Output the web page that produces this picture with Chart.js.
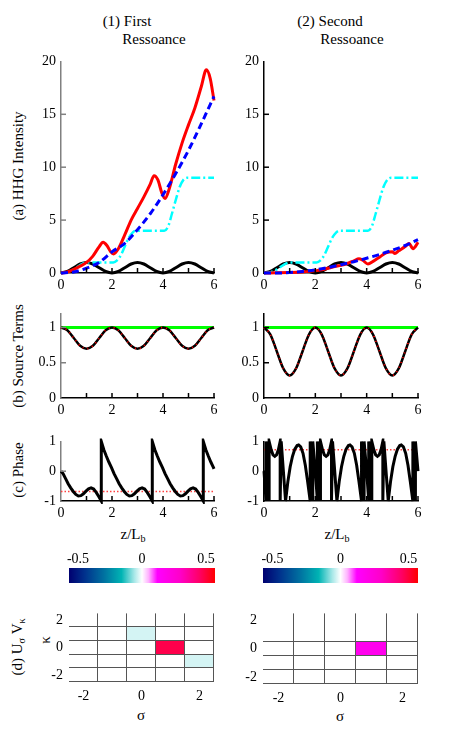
<!DOCTYPE html>
<html>
<head>
<meta charset="utf-8">
<script src="https://cdn.jsdelivr.net/npm/chart.js@4.4.1/dist/chart.umd.min.js"></script>
<style>
  body { margin: 0; background: #fff; width: 463px; height: 735px; overflow: hidden; position: relative;
         font-family: "Liberation Serif", "DejaVu Serif", serif; }
  canvas { position: absolute; }
  .t { position: absolute; font-size: 15px; white-space: nowrap; color: #000; transform: translate(-50%, -50%); }
  .r { transform: translate(-50%, -50%) rotate(-90deg); }
  sub { font-size: 10px; vertical-align: -3px; }
</style>
</head>
<body>
<div class="t" style="left:127px;top:21px">(1) First</div>
<div class="t" style="left:154px;top:39px">Ressoance</div>
<div class="t" style="left:330px;top:21px">(2) Second</div>
<div class="t" style="left:352px;top:39px">Ressoance</div>
<div class="t r" style="left:18px;top:166px">(a) HHG Intensity</div>
<div class="t r" style="left:18px;top:356px">(b) Source Terms</div>
<div class="t r" style="left:18px;top:470px">(c) Phase</div>
<div class="t" style="left:133px;top:535px">z/L<sub>b</sub></div>
<div class="t" style="left:337px;top:535px">z/L<sub>b</sub></div>
<div class="t r" style="left:18px;top:647px">(d) U<sub>σ</sub> V<sub>κ</sub></div>
<div class="t r" style="left:45px;top:640px">κ</div>
<div class="t" style="left:141px;top:715px">σ</div>
<div class="t" style="left:340px;top:716px">σ</div>
<script>
// ---- data ----
const zQ = [0, 0.25, 0.5, 0.75, 1, 1.25, 1.5, 1.75, 2, 2.25, 2.5, 2.75, 3, 3.25, 3.5, 3.75, 4, 4.25, 4.5, 4.75, 5, 5.25, 5.5, 5.75, 6];
const zH = [0, 0.5, 1, 1.5, 2, 2.5, 3, 3.5, 4, 4.5, 5, 5.5, 6];

// (a) HHG intensity
const bumps = [0, 0.15, 0.5, 0.85, 1, 0.85, 0.5, 0.15, 0, 0.15, 0.5, 0.85, 1, 0.85, 0.5, 0.15, 0, 0.15, 0.5, 0.85, 1, 0.85, 0.5, 0.15, 0];
const cyanZ = [0, 0.25, 0.5, 0.75, 1, 2.05, 2.2, 2.35, 2.5, 2.65, 2.8, 2.95, 4.05, 4.2, 4.35, 4.5, 4.65, 4.8, 4.95, 6];
const cyanY = [0, 0.07, 0.35, 0.75, 1, 1, 1.2, 1.7, 2.5, 3.3, 3.8, 4, 4, 4.4, 5.6, 6.9, 8.1, 8.8, 9, 9];
const redLz = [0, 0.25, 0.5, 0.75, 1, 1.25, 1.5, 1.65, 1.8, 1.95, 2.06, 2.25, 2.5, 2.75, 3, 3.25, 3.5, 3.65, 3.8, 3.95, 4.08, 4.25, 4.5, 4.75, 5, 5.25, 5.5, 5.7, 5.85, 6];
const redLy = [0, 0.1, 0.35, 0.65, 1.0, 1.6, 2.5, 2.9, 2.6, 2.0, 1.8, 2.3, 3.6, 5.0, 6.1, 7.2, 8.4, 9.2, 8.8, 7.6, 7.05, 8.0, 10.3, 12.3, 14.0, 15.6, 17.6, 19.2, 18.4, 16.3];
const blueL = [0, 0.1, 0.45, 1.0, 2.0, 2.8, 4.1, 5.6, 7.4, 9.4, 11.6, 14.1, 16.7];
const redRz = [0, 0.5, 1, 1.5, 2, 2.25, 2.5, 2.75, 3, 3.25, 3.5, 3.7, 3.85, 4.05, 4.25, 4.5, 4.75, 5, 5.1, 5.25, 5.5, 5.65, 5.8, 5.9, 6];
const redRy = [0, 0.02, 0.05, 0.1, 0.2, 0.3, 0.45, 0.6, 0.72, 0.9, 1.15, 1.35, 1.2, 0.85, 1.1, 1.5, 1.9, 2.0, 1.85, 2.1, 2.5, 2.8, 2.3, 2.5, 2.9];
const blueR = [0, 0, 0.05, 0.15, 0.3, 0.52, 0.78, 1.07, 1.4, 1.75, 2.15, 2.6, 3.15];

// (b) source terms
const srcL = [1, 0.96, 0.85, 0.74, 0.7, 0.74, 0.85, 0.96, 1, 0.96, 0.85, 0.74, 0.7, 0.74, 0.85, 0.96, 1, 0.96, 0.85, 0.74, 0.7, 0.74, 0.85, 0.96, 1];
const srcR = [1, 0.9, 0.66, 0.42, 0.32, 0.42, 0.66, 0.9, 1, 0.9, 0.66, 0.42, 0.32, 0.42, 0.66, 0.9, 1, 0.9, 0.66, 0.42, 0.32, 0.42, 0.66, 0.9, 1];
const flatZ = [0, 6];
const flatY = [1, 1];

// (c) phase
const phLz = [0, 0.08, 0.18, 0.28, 0.38, 0.48, 0.58, 0.68, 0.78, 0.88, 0.98, 1.08, 1.18, 1.28, 1.38, 1.48, 1.58,
  1.58, 1.68, 1.78, 1.88, 1.98, 2.08, 2.18, 2.28, 2.38, 2.48, 2.58, 2.68, 2.78, 2.88, 2.98, 3.08, 3.18, 3.28, 3.38, 3.48, 3.58,
  3.58, 3.68, 3.78, 3.88, 3.98, 4.08, 4.18, 4.28, 4.38, 4.48, 4.58, 4.68, 4.78, 4.88, 4.98, 5.08, 5.18, 5.28, 5.38, 5.48, 5.58,
  5.58, 5.68, 5.78, 5.88, 5.98, 6];
const phLy = [0, -0.08, -0.25, -0.42, -0.56, -0.68, -0.78, -0.83, -0.82, -0.76, -0.67, -0.59, -0.56, -0.6, -0.71, -0.85, -1,
  1, 0.72, 0.5, 0.3, 0.12, -0.08, -0.25, -0.42, -0.56, -0.68, -0.78, -0.83, -0.82, -0.76, -0.67, -0.59, -0.56, -0.6, -0.71, -0.85, -1,
  1, 0.72, 0.5, 0.3, 0.12, -0.08, -0.25, -0.42, -0.56, -0.68, -0.78, -0.83, -0.82, -0.76, -0.67, -0.59, -0.56, -0.6, -0.71, -0.85, -1,
  1, 0.72, 0.5, 0.3, 0.12, 0.08];
const phRz = [0, 0.08, 0.08, 0.2, 0.2, 0.28, 0.35, 0.42, 0.49, 0.56, 0.63, 0.63, 0.67, 0.84, 0.93, 1.02, 1.11, 1.2, 1.29, 1.35, 1.43, 1.52, 1.61, 1.7, 1.8, 1.8, 1.9, 1.9,
  2, 2.08, 2.08, 2.2, 2.2, 2.28, 2.35, 2.42, 2.49, 2.56, 2.63, 2.63, 2.67, 2.84, 2.93, 3.02, 3.11, 3.2, 3.29, 3.35, 3.43, 3.52, 3.61, 3.7, 3.8, 3.8, 3.9, 3.9,
  4, 4.08, 4.08, 4.2, 4.2, 4.28, 4.35, 4.42, 4.49, 4.56, 4.63, 4.63, 4.67, 4.84, 4.93, 5.02, 5.11, 5.2, 5.29, 5.35, 5.43, 5.52, 5.61, 5.7, 5.8, 5.8, 5.9, 5.9,
  6];
const phRy = [0, -1, 1, -1, 1, 0.72, 0.55, 0.5, 0.55, 0.72, 1, -1, 1, -1, -0.35, 0.15, 0.5, 0.74, 0.86, 0.88, 0.82, 0.6, 0.2, -0.35, -1, 1, -1, 1,
  0, -1, 1, -1, 1, 0.72, 0.55, 0.5, 0.55, 0.72, 1, -1, 1, -1, -0.35, 0.15, 0.5, 0.74, 0.86, 0.88, 0.82, 0.6, 0.2, -0.35, -1, 1, -1, 1,
  0, -1, 1, -1, 1, 0.72, 0.55, 0.5, 0.55, 0.72, 1, -1, 1, -1, -0.35, 0.15, 0.5, 0.74, 0.86, 0.88, 0.82, 0.6, 0.2, -0.35, -1, 1, -1, 1,
  0];
const refPhaseL = [-0.68, -0.68];
const refPhaseR = [0.72, 0.72];

// (d) U_sigma V_kappa, rows kappa = 2..-2, columns sigma = -2..2
const sigmas = [-2, -1, 0, 1, 2];
const kappas = [2, 1, 0, -1, -2];
const uvL = [
  [0, 0, 0, 0, 0],
  [0, 0, -0.03, 0, 0],
  [0, 0, 0, 0.48, 0],
  [0, 0, 0, 0, -0.03],
  [0, 0, 0, 0, 0]
];
const uvR = [
  [0, 0, 0, 0, 0],
  [0, 0, 0, 0, 0],
  [0, 0, 0, 0.18, 0],
  [0, 0, 0, 0, 0],
  [0, 0, 0, 0, 0]
];
const cellEdgesS = [-1.5, -0.5, 0.5, 1.5, 2.5];
const cellEdgesKL = [1.5, 0.5, -0.5, -1.5, -2.5];
const cellEdgesKR = [0.5, -0.5, -1.5, -2.5];

// colour scale
const cbMin = -0.57, cbMax = 0.57;
const cbTicks = [-0.5, 0, 0.5];
const cmapVals = [-0.57, -0.45, -0.3, -0.16, -0.06, 0, 0.05, 0.12, 0.3, 0.45, 0.57];
const cmapCols = ['#000070', '#00308c', '#0070a0', '#00b4b4', '#a8e8e8', '#ffffff', '#ffb4ff', '#ff00ff', '#ff00c8', '#ff0064', '#ff0000'];

// ---- helpers ----
Chart.defaults.font.family = "'Liberation Serif', 'DejaVu Serif', serif";
Chart.defaults.font.size = 14;
Chart.defaults.color = "#000";
const FONT = { family: "'Liberation Serif', 'DejaVu Serif', serif", size: 14 };

function hexRgb(h) {
  return [parseInt(h.slice(1, 3), 16), parseInt(h.slice(3, 5), 16), parseInt(h.slice(5, 7), 16)];
}
function cmap(v) {
  if (v <= cmapVals[0]) return cmapCols[0];
  for (let i = 1; i < cmapVals.length; i++) {
    if (v <= cmapVals[i]) {
      const f = (v - cmapVals[i - 1]) / (cmapVals[i] - cmapVals[i - 1]);
      const a = hexRgb(cmapCols[i - 1]), b = hexRgb(cmapCols[i]);
      const c = a.map((x, j) => Math.round(x + (b[j] - x) * f));
      return `rgb(${c[0]},${c[1]},${c[2]})`;
    }
  }
  return cmapCols[cmapCols.length - 1];
}

function place(rect, pl, pt, pr, pb) {
  const c = document.createElement("canvas");
  const w = rect.r - rect.l + pl + pr;
  const h = rect.b - rect.t + pt + pb;
  c.width = w; c.height = h;
  c.style.left = (rect.l - pl) + "px";
  c.style.top = (rect.t - pt) + "px";
  c.style.width = w + "px"; c.style.height = h + "px";
  document.body.appendChild(c);
  return c;
}

// inward tick marks
const inTicks = {
  id: "inTicks",
  afterDatasetsDraw(chart, args, o) {
    if (!o || !o.x) return;
    const { ctx, chartArea: a, scales } = chart;
    ctx.save();
    ctx.lineWidth = 1.5;
    ctx.strokeStyle = "#000";
    o.x.forEach((v) => {
      const p = scales.x.getPixelForValue(v);
      ctx.beginPath(); ctx.moveTo(p, a.bottom); ctx.lineTo(p, a.bottom - 5); ctx.stroke();
    });
    ctx.strokeStyle = o.yColor || "#000";
    o.y.forEach((v) => {
      const p = scales.y.getPixelForValue(v);
      ctx.beginPath(); ctx.moveTo(a.left, p); ctx.lineTo(a.left + 5, p); ctx.stroke();
    });
    ctx.restore();
  }
};

// cell borders for the (d) grids
const cellGrid = {
  id: "cellGrid",
  afterDatasetsDraw(chart, args, o) {
    if (!o || !o.v) return;
    const { ctx, chartArea: a, scales: { x, y } } = chart;
    ctx.save();
    ctx.strokeStyle = "#555";
    ctx.lineWidth = 1;
    o.v.forEach((s) => {
      const p = Math.round(x.getPixelForValue(s)) - 0.5;
      ctx.beginPath(); ctx.moveTo(p, a.top); ctx.lineTo(p, a.bottom); ctx.stroke();
    });
    o.h.forEach((k) => {
      const p = Math.round(y.getPixelForValue(k)) - 0.5;
      ctx.beginPath(); ctx.moveTo(a.left, p); ctx.lineTo(a.right, p); ctx.stroke();
    });
    ctx.restore();
  }
};

function ser(zs, ys, color, width, dash, smooth) {
  return {
    data: zs.map((z, i) => ({ x: z, y: ys[i] })),
    borderColor: color,
    borderWidth: width,
    borderDash: dash || [],
    pointRadius: 0,
    fill: false,
    tension: 0,
    cubicInterpolationMode: smooth ? "monotone" : "default",
    clip: 3
  };
}

function lineChart(rect, yColor, yMin, yMax, yTicks, yMarks, datasets) {
  const pl = 45, pt = 8, pr = 10, pb = 24;
  const cv = place(rect, pl, pt, pr, pb);
  return new Chart(cv, {
    type: "line",
    data: { datasets: datasets },
    options: {
      responsive: false,
      animation: false,
      devicePixelRatio: 1,
      layout: { padding: { left: 0, top: pt, right: pr, bottom: 0 } },
      plugins: {
        legend: { display: false },
        tooltip: { enabled: false },
        inTicks: { x: [1, 2, 3, 4, 5, 6], y: yMarks, yColor: yColor }
      },
      scales: {
        x: {
          type: "linear", min: 0, max: 6,
          afterFit: (s) => { s.height = pb; },
          afterBuildTicks: (s) => { s.ticks = [0, 2, 4, 6].map((v) => ({ value: v })); },
          ticks: { font: FONT, color: "#000", padding: 4, maxRotation: 0, callback: (v) => String(v) },
          grid: { display: false, drawTicks: false },
          border: { color: "#000", width: 1.5 }
        },
        y: {
          type: "linear", min: yMin, max: yMax,
          afterFit: (s) => { s.width = pl; },
          afterBuildTicks: (s) => { s.ticks = yTicks.map((v) => ({ value: v })); },
          ticks: { font: FONT, color: "#000", padding: 5, callback: (v) => String(v) },
          grid: { display: false, drawTicks: false },
          border: { color: yColor, width: 1.5 }
        }
      }
    },
    plugins: [inTicks]
  });
}

function colorbar(rect) {
  const pl = 12, pt = 18, pr = 12, pb = 2;
  const cv = place(rect, pl, pt, pr, pb);
  return new Chart(cv, {
    type: "bar",
    data: {
      labels: ["cb"],
      datasets: [{
        data: [[cbMin, cbMax]],
        backgroundColor: (ctx) => {
          const a = ctx.chart.chartArea;
          if (!a) return "#fff";
          const g = ctx.chart.ctx.createLinearGradient(a.left, 0, a.right, 0);
          cmapVals.forEach((v, i) => g.addColorStop((v - cbMin) / (cbMax - cbMin), cmapCols[i]));
          return g;
        },
        borderWidth: 0,
        barPercentage: 1,
        categoryPercentage: 1
      }]
    },
    options: {
      indexAxis: "y",
      responsive: false,
      animation: false,
      devicePixelRatio: 1,
      layout: { padding: { left: pl, top: 0, right: pr, bottom: pb } },
      plugins: { legend: { display: false }, tooltip: { enabled: false } },
      scales: {
        x: {
          type: "linear", position: "top", min: cbMin, max: cbMax,
          afterFit: (s) => { s.height = pt; },
          afterBuildTicks: (s) => { s.ticks = cbTicks.map((v) => ({ value: v })); },
          ticks: { font: FONT, color: "#000", padding: 0, callback: (v) => String(v) },
          grid: { display: false, drawTicks: false },
          border: { display: false }
        },
        y: { display: false }
      }
    }
  });
}

function cellChart(rect, mat, hEdges) {
  const pl = 30, pt = 6, pr = 10, pb = 24;
  const cv = place(rect, pl, pt, pr, pb);
  const cells = [];
  kappas.forEach((k, r) => sigmas.forEach((s, c) => cells.push({ x: s, y: [k - 0.5, k + 0.5], v: mat[r][c] })));
  return new Chart(cv, {
    type: "bar",
    data: {
      datasets: [{
        data: cells,
        backgroundColor: cells.map((c) => cmap(c.v)),
        borderWidth: 0,
        barPercentage: 1,
        categoryPercentage: 1
      }]
    },
    options: {
      responsive: false,
      animation: false,
      devicePixelRatio: 1,
      layout: { padding: { left: 0, top: pt, right: pr, bottom: 0 } },
      plugins: {
        legend: { display: false },
        tooltip: { enabled: false },
        cellGrid: { v: cellEdgesS, h: hEdges }
      },
      scales: {
        x: {
          type: "linear", min: -2.5, max: 2.5, offset: false,
          afterFit: (s) => { s.height = pb; },
          afterBuildTicks: (s) => { s.ticks = [-2, 0, 2].map((v) => ({ value: v })); },
          ticks: { font: FONT, color: "#000", padding: 6, callback: (v) => String(v) },
          grid: { display: false, drawTicks: false },
          border: { display: false }
        },
        y: {
          type: "linear", min: -2.5, max: 2.5,
          afterFit: (s) => { s.width = pl; },
          afterBuildTicks: (s) => { s.ticks = [-2, 0, 2].map((v) => ({ value: v })); },
          ticks: { font: FONT, color: "#000", padding: 6, callback: (v) => String(v) },
          grid: { display: false, drawTicks: false },
          border: { display: false }
        }
      }
    },
    plugins: [cellGrid]
  });
}

// ---- panels ----
const colL = { l: 61, r: 214 };
const colR = { l: 264, r: 418 };

lineChart({ l: colL.l, r: colL.r, t: 56, b: 273 }, "#808080", 0, 20, [0, 5, 10, 15, 20], [5, 10, 15], [
  ser(zH, blueL, "#0000ff", 3, [7, 4], true),
  ser(redLz, redLy, "#ff0000", 3, null, true),
  ser(cyanZ, cyanY, "#00ffff", 2.5, [9, 3, 2, 3], true),
  ser(zQ, bumps, "#000000", 3, null, true)
]);
lineChart({ l: colR.l, r: colR.r, t: 56, b: 273 }, "#000", 0, 20, [0, 5, 10, 15, 20], [5, 10, 15], [
  ser(zH, blueR, "#0000ff", 3, [7, 4], true),
  ser(redRz, redRy, "#ff0000", 3, null, true),
  ser(cyanZ, cyanY, "#00ffff", 2.5, [9, 3, 2, 3], true),
  ser(zQ, bumps, "#000000", 3, null, true)
]);

lineChart({ l: colL.l, r: colL.r, t: 308, b: 398 }, "#808080", 0, 1.2, [0, 0.5, 1], [0.5, 1], [
  ser(zQ, srcL, "#ff0000", 2, [1, 4], true),
  ser(zQ, srcL, "#000000", 2.5, null, true),
  ser(flatZ, flatY, "#00ff00", 3, null, false)
]);
lineChart({ l: colR.l, r: colR.r, t: 308, b: 398 }, "#000", 0, 1.2, [0, 0.5, 1], [0.5, 1], [
  ser(zQ, srcR, "#ff0000", 2, [1, 4], true),
  ser(zQ, srcR, "#000000", 2.5, null, true),
  ser(flatZ, flatY, "#00ff00", 3, null, false)
]);

lineChart({ l: colL.l, r: colL.r, t: 436, b: 501 }, "#808080", -1, 1, [-1, 0, 1], [0], [
  ser(phLz, phLy, "#000000", 3, null, false),
  ser(flatZ, refPhaseL, "#ff4040", 1.5, [1.5, 2], false)
]);
lineChart({ l: colR.l, r: colR.r, t: 436, b: 501 }, "#000", -1, 1, [-1, 0, 1], [0], [
  ser(phRz, phRy, "#000000", 3, null, false),
  ser(flatZ, refPhaseR, "#ff4040", 1.5, [1.5, 2], false)
]);

colorbar({ l: 69, r: 215, t: 568, b: 583 });
colorbar({ l: 263, r: 418, t: 568, b: 583 });

cellChart({ l: 69, r: 214, t: 605, b: 682 }, uvL, cellEdgesKL);
cellChart({ l: 263, r: 418, t: 605, b: 684 }, uvR, cellEdgesKR);
</script>
</body>
</html>
